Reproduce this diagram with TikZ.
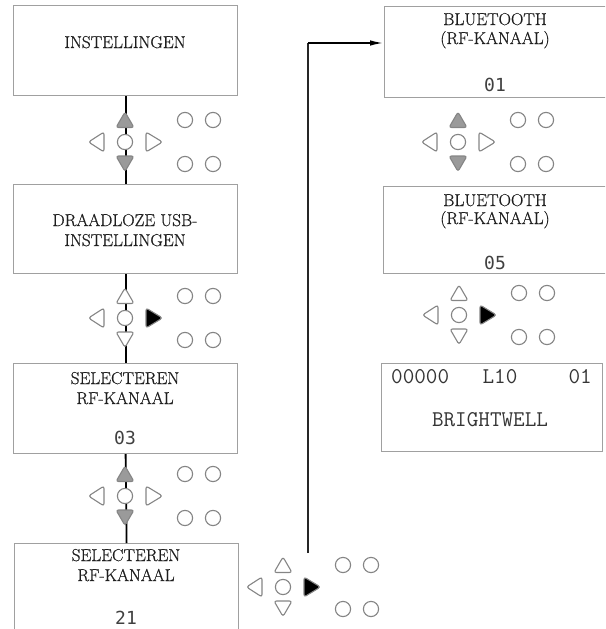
\documentclass[tikz,border=0pt]{standalone}
\usepackage{fontspec}
\newfontfamily\numfont{DejaVu Sans Mono}
\newfontfamily\lblfont{Latin Modern Roman}[FakeBold=0.6]
\usetikzlibrary{arrows.meta,calc}
\definecolor{boxgray}{HTML}{A0A0A0}
\definecolor{keygray}{HTML}{858585}
\definecolor{keyfill}{HTML}{9A9A9A}
\definecolor{txt}{HTML}{1E1E1E}
\tikzset{
  screen/.style={draw=boxgray, line width=1.2pt, anchor=north west, inner sep=0pt, minimum width=224pt},
  lbl/.style={anchor=base, inner sep=0pt, text=txt, font=\lblfont\fontsize{17.2}{20}\selectfont},
  num/.style={anchor=base, inner sep=0pt, text=txt!85, font=\numfont\fontsize{18}{20}\selectfont},
  lcd/.style={inner sep=0pt, text=txt!90, font=\ttfamily\fontsize{22.5}{24}\selectfont},
  flow/.style={draw=black, line width=1.8pt},
  keyline/.style={draw=keygray, line width=1.1pt, rounded corners=2.5pt},
  keyc/.style={draw=keygray, line width=1.1pt, fill=white}
}
% \kpad{cx}{cy}{up/down fill}{right fill}
\newcommand\kpad[4]{%
  \draw[keyline, fill=#3] (#1,#2-30) -- (#1+9,#2-14.5) -- (#1-9,#2-14.5) -- cycle;
  \draw[keyline, fill=#3] (#1,#2+29.5) -- (#1+9,#2+14) -- (#1-9,#2+14) -- cycle;
  \draw[keyline, fill=white] (#1-36.5,#2) -- (#1-21,#2-10) -- (#1-21,#2+10) -- cycle;
  \draw[keyline, fill=#4] (#1+37.5,#2) -- (#1+21,#2-10) -- (#1+21,#2+10) -- cycle;
  \draw[keyc] (#1,#2) circle[radius=7.6pt];
  \draw[keyc] (#1+60,#2-22) circle[radius=7.6pt];
  \draw[keyc] (#1+88,#2-22) circle[radius=7.6pt];
  \draw[keyc] (#1+60,#2+22) circle[radius=7.6pt];
  \draw[keyc] (#1+88,#2+22) circle[radius=7.6pt];
}
\begin{document}
\begin{tikzpicture}[x=1pt,y=-1pt]
\useasboundingbox (0,0) rectangle (605,629);
\clip (0,0) rectangle (605,629);
% screens
\node[screen, minimum height=90pt] (b1) at (13,5) {};
\node[screen, minimum height=89pt] (b2) at (13,184) {};
\node[screen, minimum height=90pt] (b3) at (13,363) {};
\node[screen, minimum height=100pt] (b4) at (14,543) {};
\node[screen, minimum height=91pt, minimum width=224pt] (r1) at (384,6) {};
\node[screen, minimum height=87pt, minimum width=225pt] (r2) at (383,186) {};
\node[screen, minimum height=88pt, minimum width=221pt] (r3) at (381,363) {};
% texts
\node[lbl] (b1t) at (125,48) {INSTELLINGEN};
\node[lbl] (b2t1) at (125,226) {DRAADLOZE USB-};
\node[lbl] (b2t2) at (125,246) {INSTELLINGEN};
\node[lbl] (b3t1) at (125,384) {SELECTEREN};
\node[lbl] (b3t2) at (125,404) {RF-KANAAL};
\node[num] (b3n) at (125,444.5) {03};
\node[lbl] (b4t1) at (126,561) {SELECTEREN};
\node[lbl] (b4t2) at (126,581) {RF-KANAAL};
\node[num] (b4n) at (126,624.5) {21};
\node[lbl] (r1t1) at (495,25) {BLUETOOTH};
\node[lbl] (r1t2) at (495,44) {(RF-KANAAL)};
\node[num] (r1n) at (495,91.5) {01};
\node[lbl] (r2t1) at (495,206) {BLUETOOTH};
\node[lbl] (r2t2) at (495,224) {(RF-KANAAL)};
\node[num] (r2n) at (495,269.5) {05};
\node[lcd, anchor=base west] (r3a) at (391,383.5) {00000};
\node[lcd, anchor=base] (r3b) at (500,383.5) {L10};
\node[lcd, anchor=base east] (r3c) at (592,383.5) {01};
\node[lcd, anchor=base] (r3d) at (490,426.5) {BRIGHTWELL};
% connectors
\draw[flow] (b1.south) -- (b2.north);
\draw[flow] (b2.south) -- (b3.north);
\draw[flow] (b3.south) -- (b4.north);
\coordinate (s) at (308,553);
\coordinate (c) at (308,43);
\draw[draw=black!85, line width=1.5pt] (s) -- (c);
\draw[flow, -{Latex[length=14pt,width=5.5pt]}] (c) -- (c -| r1.west);
% keypads
\kpad{125}{142}{keyfill}{white}
\kpad{125}{318}{white}{black}
\kpad{125}{496}{keyfill}{white}
\kpad{283}{587}{white}{black}
\kpad{458}{142}{keyfill}{white}
\kpad{459}{315}{white}{black}
\end{tikzpicture}
\end{document}
